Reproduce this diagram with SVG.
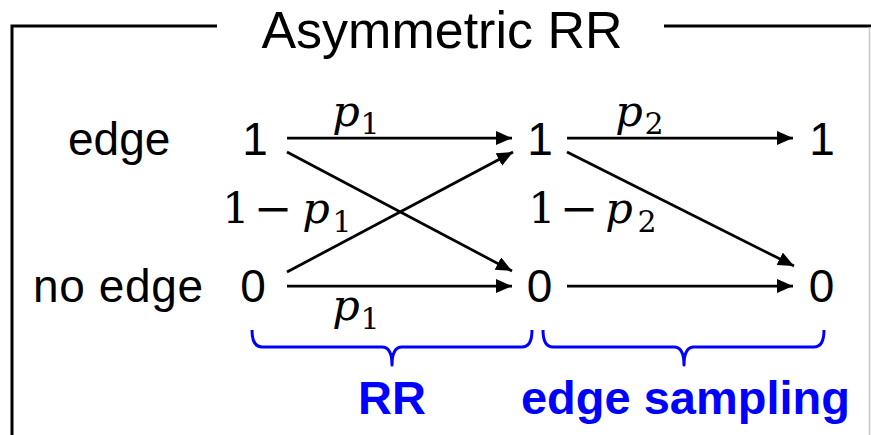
<svg xmlns="http://www.w3.org/2000/svg" width="871" height="435" viewBox="0 0 871 435">
<style>
.lbl{font-family:"Liberation Sans",Arial,sans-serif;font-size:46px;fill:#000}
.title{font-family:"Liberation Sans",Arial,sans-serif;font-size:52px;fill:#000}
.blue{font-family:"Liberation Sans",Arial,sans-serif;font-size:47px;font-weight:bold;fill:#0000FF}
.m{font-family:"DejaVu Serif","Liberation Serif",serif;font-size:43px;fill:#000}
.it{font-style:italic}
.sub{font-size:30px}
.mn{font-size:46px}
.conn line{stroke:#000;stroke-width:2.75;marker-end:url(#ah)}
.brace{fill:none;stroke:#0000FF;stroke-width:3;stroke-linejoin:round}
.frame{fill:none;stroke:#000;stroke-width:3}
</style>
<defs>
<marker id="ah" markerUnits="userSpaceOnUse" markerWidth="17" markerHeight="15" refX="16" refY="7" orient="auto">
<path d="M0,0 L16,7 L0,14 z" fill="#000"/>
</marker>
</defs>
<rect width="871" height="435" fill="#fff"/>
<g id="frame">
<polyline class="frame" points="12,435 12,26 217,26"/>
<line class="frame" x1="664" y1="26" x2="871" y2="26"/>
<line x1="869.5" y1="27" x2="869.5" y2="435" stroke="#c4c4c4" stroke-width="1.5"/>
<text class="title" x="442" y="48" text-anchor="middle">Asymmetric RR</text>
</g>
<g id="row-labels">
<text class="lbl" x="68" y="155">edge</text>
<text class="lbl" x="33" y="302" textLength="170" lengthAdjust="spacing">no edge</text>
</g>
<g id="n-in-1"><text class="lbl" x="255" y="155" text-anchor="middle">1</text></g>
<g id="n-in-0"><text class="lbl" x="253" y="302" text-anchor="middle">0</text></g>
<g id="n-mid-1"><text class="lbl" x="540" y="155" text-anchor="middle">1</text></g>
<g id="n-mid-0"><text class="lbl" x="539.5" y="302" text-anchor="middle">0</text></g>
<g id="n-out-1"><text class="lbl" x="822" y="155" text-anchor="middle">1</text></g>
<g id="n-out-0"><text class="lbl" x="821.5" y="302" text-anchor="middle">0</text></g>
<g class="conn" id="connectors">
<line x1="287" y1="138" x2="512" y2="138"/>
<line x1="287" y1="152" x2="512" y2="271"/>
<line x1="287" y1="272" x2="513" y2="152"/>
<line x1="287" y1="286" x2="512" y2="286"/>
<line x1="567" y1="138" x2="793" y2="138"/>
<line x1="567" y1="152" x2="794" y2="266"/>
<line x1="567" y1="286" x2="793" y2="286"/>
</g>
<g id="edge-labels">
<text class="m" text-anchor="middle"><tspan class="it" x="346" y="126">p</tspan><tspan class="sub" x="370" y="134">1</tspan></text>
<text class="m" text-anchor="middle"><tspan x="236" y="223">1</tspan><tspan class="mn" x="273" y="224">−</tspan><tspan class="it" x="316" y="223">p</tspan><tspan class="sub" x="342" y="232">1</tspan></text>
<text class="m" text-anchor="middle"><tspan class="it" x="346" y="320">p</tspan><tspan class="sub" x="370" y="329">1</tspan></text>
<text class="m" text-anchor="middle"><tspan class="it" x="629" y="126">p</tspan><tspan class="sub" x="654" y="134">2</tspan></text>
<text class="m" text-anchor="middle"><tspan x="542" y="223">1</tspan><tspan class="mn" x="579" y="224">−</tspan><tspan class="it" x="619" y="223">p</tspan><tspan class="sub" x="647" y="232">2</tspan></text>
</g>
<g id="brace-rr">
<path class="brace" d="M252,330 Q252,347 262,347 L382,347 Q392,347 392,365 Q392,347 402,347 L522,347 Q532,347 532,330"/>
<text class="blue" x="392" y="414" text-anchor="middle">RR</text>
</g>
<g id="brace-sampling">
<path class="brace" d="M543,330 Q543,347 553,347 L674,347 Q684,347 684,365 Q684,347 694,347 L814,347 Q824,347 824,330"/>
<text class="blue" x="685.5" y="414" text-anchor="middle">edge sampling</text>
</g>
</svg>
